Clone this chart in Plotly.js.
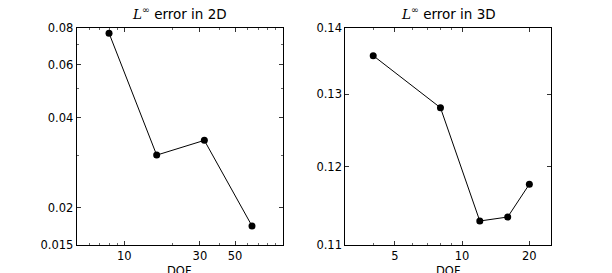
<!DOCTYPE html>
<html>
<head>
<meta charset="utf-8">
<script src="https://cdn.plot.ly/plotly-3.0.1.min.js"></script>
<style>html,body{margin:0;padding:0;background:#fff;}#chart{width:612px;height:273px;}</style>
</head>
<body>
<div id="chart"></div>
<script>
// 2D data (log-log)
const dof2D = [8, 16, 32, 64];
const err2D = [0.0766, 0.0300, 0.0336, 0.0174];
// 3D data (log-log)
const dof3D = [4, 8, 12, 16, 20];
const err3D = [0.1357, 0.1281, 0.1130, 0.1135, 0.1177];

const title2D = '<span style="font-family:DejaVu Serif"><i>L</i></span><sup>∞</sup> error in 2D';
const title3D = '<span style="font-family:DejaVu Serif"><i>L</i></span><sup>∞</sup> error in 3D';
const xLabel = 'DOF';

const x2Ticks = [10, 30, 50];
const x2TickText = ['10', '30', '50'];
const x2Minor = [5, 6, 7, 8, 9, 20, 40, 60, 70, 80, 90];
const y2Ticks = [0.015, 0.02, 0.04, 0.06, 0.08];
const y2TickText = ['0.015', '0.02', '0.04', '0.06', '0.08'];
const y2Minor = [0.03, 0.05, 0.07];

const x3Ticks = [5, 10, 20];
const x3TickText = ['5', '10', '20'];
const x3Minor = [4, 6, 7, 8, 9];
const y3Ticks = [0.11, 0.12, 0.13, 0.14];
const y3TickText = ['0.11', '0.12', '0.13', '0.14'];

const font = {family: 'DejaVu Sans', size: 11.5, color: '#000'};

const lineStyle = {color: '#000', width: 1};
const markerStyle = {color: '#000', size: 7};

const traces = [
  {x: dof2D, y: err2D, xaxis: 'x', yaxis: 'y', mode: 'lines+markers', line: lineStyle, marker: markerStyle, showlegend: false, hoverinfo: 'none'},
  {x: dof3D, y: err3D, xaxis: 'x2', yaxis: 'y2', mode: 'lines+markers', line: lineStyle, marker: markerStyle, showlegend: false, hoverinfo: 'none'}
];

function axisBase() {
  return {
    showline: true, linecolor: '#000', linewidth: 1, mirror: 'ticks',
    ticks: 'inside', ticklen: 4, tickwidth: 0.8, tickcolor: '#000',
    showgrid: false, zeroline: false, automargin: false,
    tickfont: font, fixedrange: true
  };
}
function minorTicks(vals) {
  return {tickmode: 'array', tickvals: vals, ticks: 'inside', ticklen: 2, tickcolor: '#000', tickwidth: 0.6, showgrid: false};
}

const yDom = [1 - 245.3 / 273, 1 - 27.5 / 273];
const xDom1 = [76.7 / 612, 282.7 / 612];
const xDom2 = [345.3 / 612, 551 / 612];

const layout = {
  width: 612, height: 273,
  margin: {l: 0, r: 0, t: 0, b: 0},
  paper_bgcolor: '#fff', plot_bgcolor: '#fff',
  font: font,
  xaxis: Object.assign(axisBase(), {
    domain: xDom1, type: 'log',
    range: [Math.log10(5), Math.log10(100)],
    tickmode: 'array', tickvals: x2Ticks, ticktext: x2TickText,
    minor: minorTicks(x2Minor)
  }),
  yaxis: Object.assign(axisBase(), {
    domain: yDom, type: 'log',
    range: [Math.log10(0.015), Math.log10(0.08)],
    tickmode: 'array', tickvals: y2Ticks, ticktext: y2TickText,
    minor: minorTicks(y2Minor)
  }),
  xaxis2: Object.assign(axisBase(), {
    domain: xDom2, type: 'log', anchor: 'y2',
    range: [Math.log10(3), Math.log10(25)],
    tickmode: 'array', tickvals: x3Ticks, ticktext: x3TickText,
    minor: minorTicks(x3Minor)
  }),
  yaxis2: Object.assign(axisBase(), {
    domain: yDom, anchor: 'x2', type: 'log',
    range: [Math.log10(0.11), Math.log10(0.14)],
    tickmode: 'array', tickvals: y3Ticks, ticktext: y3TickText
  }),
  annotations: [
    {text: title2D, xref: 'paper', yref: 'paper', x: (xDom1[0] + xDom1[1]) / 2, y: 1 - 24 / 273, xanchor: 'center', yanchor: 'bottom', showarrow: false, font: {family: 'DejaVu Sans', size: 13.5, color: '#000'}},
    {text: title3D, xref: 'paper', yref: 'paper', x: (xDom2[0] + xDom2[1]) / 2, y: 1 - 24 / 273, xanchor: 'center', yanchor: 'bottom', showarrow: false, font: {family: 'DejaVu Sans', size: 13.5, color: '#000'}},
    {text: xLabel, xref: 'paper', yref: 'paper', x: (xDom1[0] + xDom1[1]) / 2, y: 1 - 262 / 273, xanchor: 'center', yanchor: 'top', showarrow: false, font: font},
    {text: xLabel, xref: 'paper', yref: 'paper', x: (xDom2[0] + xDom2[1]) / 2, y: 1 - 262 / 273, xanchor: 'center', yanchor: 'top', showarrow: false, font: font}
  ]
};

Plotly.newPlot('chart', traces, layout, {staticPlot: true, displayModeBar: false});
</script>
</body>
</html>
